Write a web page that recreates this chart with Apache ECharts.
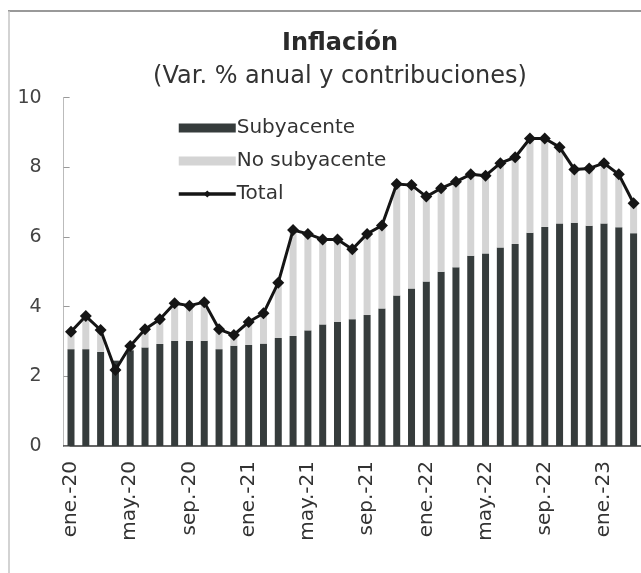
<!DOCTYPE html>
<html>
<head>
<meta charset="utf-8">
<script src="https://cdn.jsdelivr.net/npm/echarts@6/dist/echarts.min.js"></script>
<style>html,body{margin:0;padding:0;background:#fff;}#c{width:641px;height:573px;}</style>
</head>
<body>
<div id="c"></div>
<script>
var months = ['ene.-20','feb.-20','mar.-20','abr.-20','may.-20','jun.-20','jul.-20','ago.-20','sep.-20','oct.-20','nov.-20','dic.-20',
  'ene.-21','feb.-21','mar.-21','abr.-21','may.-21','jun.-21','jul.-21','ago.-21','sep.-21','oct.-21','nov.-21','dic.-21',
  'ene.-22','feb.-22','mar.-22','abr.-22','may.-22','jun.-22','jul.-22','ago.-22','sep.-22','oct.-22','nov.-22','dic.-22',
  'ene.-23','feb.-23','mar.-23'];
var subyacente = [2.78,2.78,2.70,2.45,2.75,2.83,2.93,3.02,3.02,3.02,2.78,2.88,
  2.90,2.94,3.10,3.16,3.32,3.49,3.56,3.64,3.76,3.95,4.32,4.52,
  4.72,5.00,5.13,5.46,5.53,5.70,5.80,6.12,6.29,6.39,6.41,6.32,
  6.39,6.28,6.11];
var noSubyacente = [0.50,0.95,0.63,-0.27,0.12,0.52,0.71,1.08,1.01,1.11,0.57,0.31,
  0.66,0.87,1.59,3.04,2.77,2.44,2.37,2.01,2.33,2.38,3.20,2.97,
  2.44,2.40,2.46,2.34,2.23,2.42,2.49,2.71,2.54,2.19,1.53,1.65,
  1.73,1.52,0.86];
var total = [3.28,3.73,3.33,2.18,2.87,3.35,3.64,4.10,4.03,4.13,3.35,3.19,
  3.56,3.81,4.69,6.20,6.09,5.93,5.93,5.65,6.09,6.33,7.52,7.49,
  7.16,7.40,7.59,7.80,7.76,8.12,8.29,8.83,8.83,8.58,7.94,7.97,
  8.12,7.80,6.97];
var yTicks = [0,2,4,6,8,10];

var FONT = 'DejaVu Sans';
var chart = echarts.init(document.getElementById('c'), null, {renderer:'canvas'});
chart.setOption({
  animation: false,
  backgroundColor: '#fff',
  title: [
    {text: 'Inflación', left: 335, top: 27, textAlign: 'center',
     textStyle: {fontFamily: FONT, fontSize: 24, fontWeight: 'bold', color: '#2a2a2a'}},
    {text: '(Var. % anual y contribuciones)', left: 335, top: 60, textAlign: 'center',
     textStyle: {fontFamily: FONT, fontSize: 24, fontWeight: 'normal', color: '#333'}}
  ],
  graphic: [
    {type: 'line', shape: {x1: 8, y1: 11, x2: 641, y2: 11}, style: {stroke: '#777', lineWidth: 1.5}, silent: true},
    {type: 'line', shape: {x1: 9, y1: 11, x2: 9, y2: 573}, style: {stroke: '#c4c4c4', lineWidth: 1.5}, silent: true}
  ],
  legend: {
    orient: 'vertical', left: 172, top: 113, itemWidth: 57, itemHeight: 9, itemGap: 13,
    textStyle: {fontFamily: FONT, fontSize: 20, color: '#333', padding: [0,0,0,-4]},
    data: [
      {name: 'Subyacente', icon: 'rect'},
      {name: 'No subyacente', icon: 'rect'},
      {name: 'Total', lineStyle: {width: 3.5}}
    ]
  },
  grid: {left: 63.6, right: -1.7, top: 97.7, bottom: 127},
  xAxis: {
    type: 'category', data: months,
    axisLine: {show: true, lineStyle: {color: '#333', width: 1.5}},
    axisTick: {show: false},
    axisLabel: {rotate: 90, interval: 3, margin: 15, fontFamily: FONT, fontSize: 20, color: '#333'}
  },
  yAxis: {
    type: 'value', min: 0, max: 10, interval: 2,
    splitLine: {show: false},
    axisLine: {show: true, lineStyle: {color: '#bbb', width: 1}},
    axisTick: {show: true, inside: true, length: 6, lineStyle: {color: '#999'}},
    axisLabel: {margin: 22, fontFamily: FONT, fontSize: 19, color: '#444',
      formatter: function(v){ return yTicks.indexOf(v) >= 0 ? String(v) : ''; }}
  },
  series: [
    {name: 'Subyacente', type: 'bar', stack: 'c', barWidth: 7, data: subyacente,
     itemStyle: {color: '#363c3c'}},
    {name: 'No subyacente', type: 'bar', stack: 'c', barWidth: 7, data: noSubyacente,
     itemStyle: {color: '#d4d4d4'}},
    {name: 'Total', type: 'line', data: total, symbol: 'diamond', symbolSize: 12,
     showSymbol: true, showAllSymbol: true,
     lineStyle: {color: '#151515', width: 3}, itemStyle: {color: '#151515'}, z: 5}
  ]
});
</script>
</body>
</html>
